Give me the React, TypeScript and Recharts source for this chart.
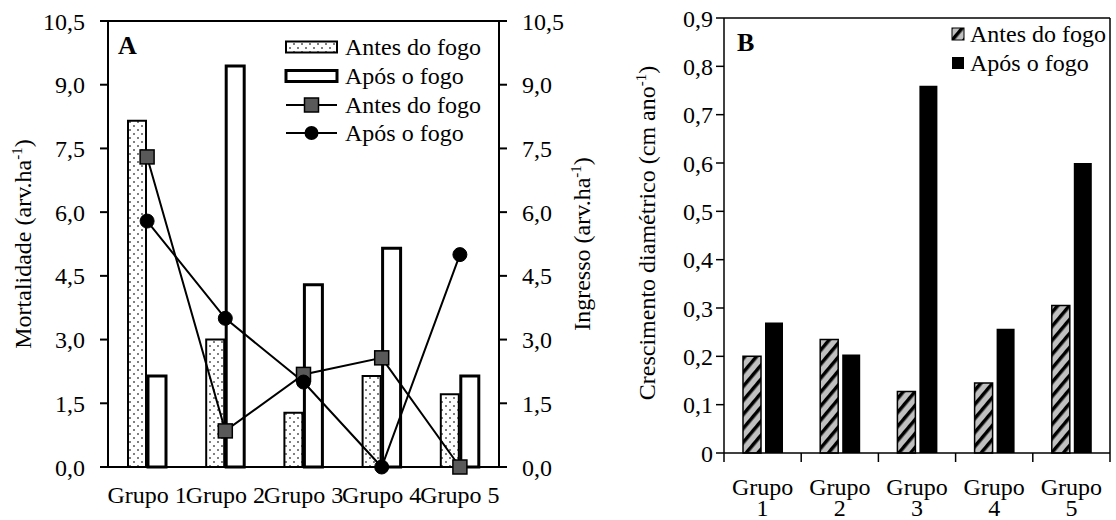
import React from 'react'
import { ComposedChart, BarChart, Bar, Line, XAxis, YAxis, Legend, ReferenceLine, Label } from 'recharts'

const GRUPOS = ['Grupo 1', 'Grupo 2', 'Grupo 3', 'Grupo 4', 'Grupo 5']
const SERIES = ['Antes do fogo', 'Após o fogo']

// A: mortalidade (barras, eixo esquerdo)
const MORT_ANTES = [8.15, 3.0, 1.28, 2.14, 1.71]
const MORT_APOS = [2.14, 9.44, 4.29, 5.15, 2.14]
// A: ingresso (linhas, eixo direito)
const ING_ANTES = [7.3, 0.85, 2.18, 2.57, 0]
const ING_APOS = [5.79, 3.5, 2.0, 0, 5.0]
// B: crescimento diametrico
const CRESC_ANTES = [0.2, 0.235, 0.127, 0.145, 0.305]
const CRESC_APOS = [0.27, 0.204, 0.76, 0.257, 0.6]

const TICKS_A = [0, 1.5, 3, 4.5, 6, 7.5, 9, 10.5]
const TICKS_B = [0, 0.1, 0.2, 0.3, 0.4, 0.5, 0.6, 0.7, 0.8, 0.9]

const FONT = 'Liberation Serif, Times New Roman, serif'
const tickStyle = { fontFamily: FONT, fontSize: 24, fill: '#000' }

const dataA = GRUPOS.map((g, i) => ({
  grupo: g,
  mortAntes: MORT_ANTES[i],
  mortApos: MORT_APOS[i],
  ingAntes: ING_ANTES[i],
  ingApos: ING_APOS[i],
}))

const dataB = GRUPOS.map((g, i) => ({
  grupo: g,
  crescAntes: CRESC_ANTES[i],
  crescApos: CRESC_APOS[i],
}))

const fmtA = (v: number) => v.toFixed(1).replace('.', ',')
const fmtB = (v: number) => (v === 0 ? '0' : v.toFixed(1).replace('.', ','))

// largura de cada categoria no grafico B (area de plotagem / 5)
const BAND_B = 386 / 5

function AxisTitle({ x, y, text }: { x: number; y: number; text: string }) {
  return (
    <text
      transform={`translate(${x},${y}) rotate(-90)`}
      textAnchor="middle"
      fontFamily={FONT}
      fontSize={24}
      fill="#000"
    >
      {text}
      <tspan dy={-9} fontSize={15}>-1</tspan>
      <tspan dy={9}>)</tspan>
    </text>
  )
}

function GrupoTick(props: any) {
  const { x, y, payload, index } = props
  const [w, n] = String(payload.value).split(' ')
  const last = index === GRUPOS.length - 1
  return (
    <g>
      <line x1={x - BAND_B / 2} x2={x - BAND_B / 2} y1={y} y2={y + 9} stroke="#000" strokeWidth={1.5} />
      {last && <line x1={x + BAND_B / 2} x2={x + BAND_B / 2} y1={y} y2={y + 9} stroke="#000" strokeWidth={1.5} />}
      <text x={x} y={y + 42} textAnchor="middle" style={tickStyle}>
        <tspan x={x}>{w}</tspan>
        <tspan x={x} dy={21}>{n}</tspan>
      </text>
    </g>
  )
}

const SquareDot = (props: any) => {
  const { cx, cy, index } = props
  return (
    <rect key={`sq-${index}`} x={cx - 7} y={cy - 7} width={14} height={14} fill="#595959" stroke="#000" strokeWidth={1.5} />
  )
}

function LegendA() {
  const rows = [17, 46, 75, 103]
  const txt = (y: number, s: string) => (
    <text x={65} y={y + 8} fontFamily={FONT} fontSize={24} fill="#000">{s}</text>
  )
  return (
    <svg width={215} height={120}>
      <rect x={6} y={rows[0] - 5.5} width={51} height={11} fill="url(#dotsA)" stroke="#000" strokeWidth={2} />
      {txt(rows[0], SERIES[0])}
      <rect x={6} y={rows[1] - 5.5} width={51} height={11} fill="#fff" stroke="#000" strokeWidth={3} />
      {txt(rows[1], SERIES[1])}
      <line x1={6} x2={57} y1={rows[2]} y2={rows[2]} stroke="#000" strokeWidth={2} />
      <rect x={24.5} y={rows[2] - 7} width={14} height={14} fill="#595959" stroke="#000" strokeWidth={1.5} />
      {txt(rows[2], SERIES[0])}
      <line x1={6} x2={57} y1={rows[3]} y2={rows[3]} stroke="#000" strokeWidth={2} />
      <circle cx={31.5} cy={rows[3]} r={7} fill="#000" />
      {txt(rows[3], SERIES[1])}
    </svg>
  )
}

function LegendB() {
  const rows = [16, 45]
  return (
    <svg width={170} height={65}>
      <rect x={7} y={rows[0] - 6} width={12} height={12} fill="url(#hatchB)" stroke="#000" strokeWidth={1} />
      <text x={25} y={rows[0] + 8} fontFamily={FONT} fontSize={24} fill="#000">{SERIES[0]}</text>
      <rect x={7} y={rows[1] - 6} width={12} height={12} fill="#000" />
      <text x={25} y={rows[1] + 8} fontFamily={FONT} fontSize={24} fill="#000">{SERIES[1]}</text>
    </svg>
  )
}

export default function App() {
  const axisLine = { stroke: '#000', strokeWidth: 2 }
  const axisLineB = { stroke: '#000', strokeWidth: 1.5 }
  return (
    <div style={{ position: 'absolute', left: 0, top: 0, width: 1116, height: 520, background: '#fff', overflow: 'hidden' }}>
      <svg width={0} height={0} style={{ position: 'absolute' }}>
        <defs>
          <pattern id="dotsA" patternUnits="userSpaceOnUse" width={8} height={8}>
            <rect width={8} height={8} fill="#fff" />
            <circle cx={2} cy={2} r={1} fill="#555" />
            <circle cx={6} cy={6} r={1} fill="#555" />
          </pattern>
          <pattern id="hatchB" patternUnits="userSpaceOnUse" width={9} height={9} patternTransform="rotate(40)">
            <rect width={9} height={9} fill="#c0c0c0" />
            <rect width={3.5} height={9} fill="#000" />
          </pattern>
        </defs>
      </svg>

      <div style={{ position: 'absolute', left: 0, top: 0 }}>
        <ComposedChart width={610} height={520} data={dataA} margin={{ top: 21, right: 0, bottom: 0, left: 0 }} barGap={2}>
          <XAxis
            dataKey="grupo"
            height={53}
            interval={0}
            tickLine={false}
            tickSize={0}
            tickMargin={19}
            axisLine={axisLine}
            tick={tickStyle}
          />
          <YAxis
            yAxisId="left"
            width={108}
            domain={[0, 10.5]}
            ticks={TICKS_A}
            tickFormatter={fmtA}
            tickSize={8}
            tickMargin={15}
            axisLine={axisLine}
            tickLine={axisLine}
            tick={tickStyle}
            label={<Label content={() => <AxisTitle x={31} y={244} text="Mortalidade (arv.ha" />} />}
          />
          <YAxis
            yAxisId="right"
            orientation="right"
            width={111}
            domain={[0, 10.5]}
            ticks={TICKS_A}
            tickFormatter={fmtA}
            tickSize={8}
            tickMargin={15}
            axisLine={axisLine}
            tickLine={axisLine}
            tick={tickStyle}
            label={<Label content={() => <AxisTitle x={590} y={244} text="Ingresso (arv.ha" />} />}
          />
          <ReferenceLine yAxisId="left" y={10.5} stroke="#000" strokeWidth={2} />
          <Bar yAxisId="left" dataKey="mortAntes" name={SERIES[0]} fill="url(#dotsA)" stroke="#000" strokeWidth={2} barSize={18} isAnimationActive={false} />
          <Bar yAxisId="left" dataKey="mortApos" name={SERIES[1]} fill="#fff" stroke="#000" strokeWidth={3} barSize={18} isAnimationActive={false} />
          <Line yAxisId="right" dataKey="ingAntes" name={SERIES[0]} stroke="#000" strokeWidth={2} dot={SquareDot} activeDot={false} isAnimationActive={false} />
          <Line yAxisId="right" dataKey="ingApos" name={SERIES[1]} stroke="#000" strokeWidth={2} dot={{ r: 7, fill: '#000', stroke: '#000', strokeWidth: 1 }} activeDot={false} isAnimationActive={false} />
          <Legend
            layout="horizontal"
            verticalAlign="middle"
            align="center"
            content={<LegendA />}
            wrapperStyle={{ left: 280, top: 30, width: 215, height: 120 }}
          />
        </ComposedChart>
      </div>

      <div style={{ position: 'absolute', left: 560, top: 0 }}>
        <BarChart width={552} height={520} data={dataB} margin={{ top: 18, right: 0, bottom: 0, left: 0 }} barGap={4}>
          <XAxis
            dataKey="grupo"
            height={67}
            interval={0}
            tickLine={false}
            tickSize={0}
            tickMargin={0}
            axisLine={axisLineB}
            tick={<GrupoTick />}
          />
          <YAxis
            width={164}
            domain={[0, 0.9]}
            ticks={TICKS_B}
            tickFormatter={fmtB}
            tickSize={8}
            tickMargin={3}
            axisLine={axisLineB}
            tickLine={axisLineB}
            tick={tickStyle}
            label={<Label content={() => <AxisTitle x={95} y={233} text="Crescimento diamétrico (cm ano" />} />}
          />
          <YAxis yAxisId="borda" orientation="right" width={2} domain={[0, 0.9]} tick={false} tickLine={false} axisLine={axisLineB} />
          <ReferenceLine y={0.9} stroke="#000" strokeWidth={1.5} />
          <Bar dataKey="crescAntes" name={SERIES[0]} fill="url(#hatchB)" stroke="#000" strokeWidth={1.5} barSize={18} isAnimationActive={false} />
          <Bar dataKey="crescApos" name={SERIES[1]} fill="#000" barSize={18} isAnimationActive={false} />
          <Legend
            layout="horizontal"
            verticalAlign="middle"
            align="center"
            content={<LegendB />}
            wrapperStyle={{ left: 385, top: 18, width: 170, height: 65 }}
          />
        </BarChart>
      </div>

      <svg width={1116} height={520} style={{ position: 'absolute', left: 0, top: 0, pointerEvents: 'none' }}>
        <text x={118} y={54} fontFamily={FONT} fontSize={26} fontWeight="bold" fill="#000">A</text>
        <text x={737} y={51} fontFamily={FONT} fontSize={26} fontWeight="bold" fill="#000">B</text>
      </svg>
    </div>
  )
}
